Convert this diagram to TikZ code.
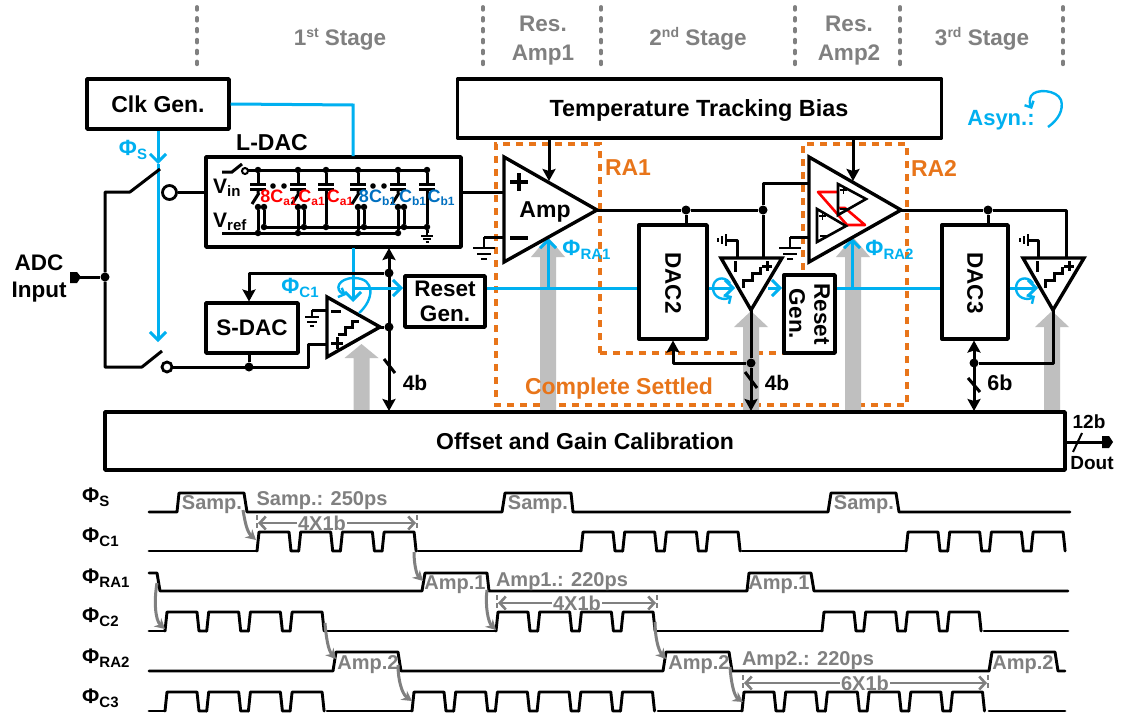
\documentclass[tikz,border=0pt]{standalone}
\usepackage{fontspec}
\setmainfont{Liberation Sans}
\usetikzlibrary{arrows.meta}
\definecolor{cblue}{HTML}{00B0F0}
\definecolor{dblue}{HTML}{0070C0}
\definecolor{corange}{HTML}{E8751A}
\definecolor{tgray}{HTML}{808080}
\definecolor{lgray}{HTML}{BFBFBF}
\newcommand{\fs}[1]{\fontsize{#1}{#1}\selectfont}
\newcommand{\sigl}[3][22]{\fs{#1}#2\raisebox{-4pt}{\fs{15}#3}}
\newcommand{\supl}[2]{#1\raisebox{8pt}{\fs{14}#2}}
\newcommand{\gnd}[2]{\draw[wire,line width=2.4pt] (#1,#2) -- +(0,11) (#1-11,#2+11) -- (#1+11,#2+11) (#1-7,#2+17) -- (#1+7,#2+17) (#1-3,#2+22) -- (#1+3,#2+22);}
\newcommand{\gndc}[2]{\draw[wire,line width=2.2pt] (#1,#2) -- +(0,7) (#1-7,#2+7) -- (#1+7,#2+7) (#1-5,#2+12) -- (#1+5,#2+12) (#1-2,#2+16) -- (#1+2,#2+16);}
\newcommand{\gndl}[2]{\draw[wire,line width=2.2pt] (#1,#2) -- (#1-1,#2) (#1-1,#2-6) -- (#1-1,#2+6) (#1-5,#2-4) -- (#1-5,#2+4) (#1-9,#2-2) -- (#1-9,#2+2);}
\newcommand{\gnds}[2]{\draw[wire,line width=2pt] (#1,#2) -- +(0,3) (#1-6,#2+3) -- (#1+6,#2+3) (#1-4,#2+6) -- (#1+4,#2+6) (#1-1.5,#2+9) -- (#1+1.5,#2+9);}
\newcommand{\pulses}[4]{\foreach \i [evaluate=\i as \xa using {#1+(\i-1)*41.7}, evaluate=\i as \xb using {#1+\i*41.7}] in {1,...,#2}{%
  \ifnum\i<#2\relax
  \draw[sigline] (\xa,#3) -- (\xa+2,#4) -- (\xa+32,#4) -- (\xa+34,#3) -- (\xb,#3);
  \else
  \draw[sigline] (\xa,#3) -- (\xa+2,#4) -- (\xa+32,#4) -- (\xa+34,#3);
  \fi}}
\newcommand{\cfn}[2]{\fs{18}#1C\raisebox{-3pt}{\fs{12}#2}}
\tikzset{
  x=1pt,y=-1pt,
  box/.style={draw=black,line width=3.4pt,fill=white,inner sep=0pt,font=\bfseries\fs{23},align=center,line join=round},
  wire/.style={draw=black,line width=3pt},
  tri/.style={draw=black,line width=3.4pt,line join=miter,fill=white},
  bwire/.style={draw=cblue,line width=3pt},
  barr/.style={bwire,-{Straight Barb[length=8pt,width=16pt,line width=3pt]}},
  barrs/.style={bwire,line width=2.4pt,-{Straight Barb[length=5pt,width=10pt,line width=2.4pt]}},
  arr/.style={wire,-{Stealth[length=12pt,width=13pt,inset=2pt]}},
  dbl/.style={wire,{Stealth[length=12pt,width=13pt,inset=2pt]}-{Stealth[length=12pt,width=13pt,inset=2pt]}},
  dot/.style={circle,fill=black,inner sep=0pt,minimum size=9pt},
  sdot/.style={circle,fill=black,inner sep=0pt,minimum size=6.5pt},
  port/.style={circle,draw=black,fill=white,line width=2.8pt,inner sep=0pt},
  lab/.style={inner sep=0pt,font=\bfseries\fs{23},align=center},
  slab/.style={inner sep=0pt,font=\bfseries\fs{22.5},align=center},
  stage/.style={inner sep=0pt,font=\bfseries\fs{22.5},text=tgray},
  glab/.style={inner sep=0pt,font=\bfseries\fs{20},text=tgray},
  clab/.style={inner sep=0pt,font=\bfseries\fs{22},text=cblue},
  olab/.style={inner sep=0pt,font=\bfseries\fs{23},text=corange},
  rcap/.style={inner sep=0pt,font=\bfseries,text=red},
  bcap/.style={inner sep=0pt,font=\bfseries,text=dblue},
  vdash/.style={draw=tgray,line width=3.8pt,line cap=round,dash pattern=on 2.8pt off 8.1pt},
  odash/.style={draw=corange,line width=3.4pt,dash pattern=on 7pt off 6pt},
  sigline/.style={draw=black,line width=2.9pt,line join=round,line cap=round},
  tick/.style={draw=tgray,line width=2.4pt,dash pattern=on 5pt off 3pt},
  dim/.style={draw=tgray,line width=2.8pt,{Straight Barb[length=6pt,width=13pt,line width=2.6pt]}-{Straight Barb[length=6pt,width=13pt,line width=2.6pt]}},
  garr/.style={draw=tgray,line width=3pt,-{Stealth[length=10pt,width=11pt]}},
  big/.style={fill=lgray,draw=none}
}
\begin{document}
\begin{tikzpicture}
\useasboundingbox (0,0) rectangle (1122,717);
\fill[white] (0,0) rectangle (1122,717);

% top stage headers
\foreach \xx/\nm in {197/a,483/b,601/c,795/d,900/e,1063/f}{
  \coordinate (dt\nm) at (\xx,7); \coordinate (db\nm) at (\xx,66);
  \draw[vdash] (dt\nm) -- (db\nm);}
\node[stage,anchor=base] (st1) at (340,46) {\supl{1}{st} Stage};
\node[stage,anchor=base] (ra1a) at (543,32) {Res.};
\node[stage,anchor=base] (ra1b) at (543,60) {Amp1};
\node[stage,anchor=base] (st2) at (698,46) {\supl{2}{nd} Stage};
\node[stage,anchor=base] (ra2a) at (849,32) {Res.};
\node[stage,anchor=base] (ra2b) at (849,60) {Amp2};
\node[stage,anchor=base] (st3) at (982,46) {\supl{3}{rd} Stage};

% orange regions
\coordinate (o1) at (496,144); \coordinate (o2) at (600,144); \coordinate (o3) at (600,353);
\coordinate (o4) at (784,353); \coordinate (o5) at (496,405); \coordinate (o6) at (907,405);
\coordinate (o7) at (907,144); \coordinate (o8) at (803,144); \coordinate (o9) at (803,276);
\draw[odash] (o3) -- (o2) -- (o1) -- (o5) -- (o6) -- (o7) -- (o8) -- (o9);
\draw[odash] (o3) -- (o4);

% gray arrows
\foreach \nm/\xx/\ya/\yb/\hw in {g1/361.5/344/358/17,g2/548/237/257/17,g3/751/311/327/17,g4/853/237/257/17,g5/1052/311/327/17}{
  \fill[big] (\xx,\ya) -- (\xx+\hw,\yb) -- (\xx+8,\yb) -- (\xx+8,412) -- (\xx-8,412) -- (\xx-8,\yb) -- (\xx-\hw,\yb) -- cycle;}

% boxes
\node[box,minimum width=142pt,minimum height=50pt] (clk) at (158,104) {Clk Gen.};
\node[box,minimum width=484pt,minimum height=59pt] (temp) at (699.5,108.5) {};
\node[inner sep=0pt,font=\bfseries\fs{23.4}] (tempt) at (699,111) {Temperature Tracking Bias};
\node[box,minimum width=255pt,minimum height=90pt] (ldac) at (333.5,202) {};
\node[box,minimum width=92pt,minimum height=50pt,font=\bfseries\fs{22.5}] (sdac) at (252,328) {S-DAC};
\node[box,minimum width=80pt,minimum height=51pt,font=\bfseries\fs{22.5}] (reset1) at (445,301.5) {Reset\\[2.5pt]Gen.};
\node[box,minimum width=68pt,minimum height=114pt] (dac2) at (673,282) {};
\node[box,minimum width=51pt,minimum height=78pt] (reset2) at (809.5,314) {};
\node[box,minimum width=66pt,minimum height=114pt] (dac3) at (975,282) {};
\node[box,minimum width=960pt,minimum height=58pt] (cal) at (585,441) {Offset and Gain Calibration};
\node[slab,rotate=-90] (dac2t) at (673,283) {DAC2};
\node[slab,rotate=-90] (dac3t) at (975,283) {DAC3};
\node[slab,rotate=-90] (reset2t) at (809.5,314) {Reset\\[2.5pt]Gen.};
\node[lab] (ldact) at (272,143) {L-DAC};

% named points
\coordinate (clkout) at (clk.east);
\coordinate (bv) at (353,105);
\coordinate (bvt) at (353,156);
\coordinate (bvb) at (353,248);
\coordinate (bvend) at (353,302);
\coordinate (bsend) at (158,342);
\coordinate (bsarr) at (158,164);

% blue clock wiring
\draw[bwire] (clkout) -- (bv) -- (bvt);
\draw[barr] (clk.south) -- (bsarr);
\draw[barr] (bsarr) -- (bsend);
\draw[barr] (bvb) -- (bvend);
\node[clab] (phis) at (133,150) {\sigl{Φ}{S}};
\node[clab] (phic1) at (300,288) {\sigl{Φ}{C1}};

% first-stage inputs
\node[dot] (jin) at (105,277) {};
\coordinate (adcp) at (80,277);
\fill (70,272) -- (77,272) -- (81,277) -- (77,283) -- (70,283) -- cycle;
\draw[wire] (adcp) -- (jin);
\node[lab,font=\bfseries\fs{22.5}] (adc) at (39,278) {ADC\\[4.5pt]Input};
\coordinate (sw1a) at (130,192); \coordinate (sw1b) at (160,169);
\coordinate (sw2a) at (142,367); \coordinate (sw2b) at (162,351);
\node[port,minimum size=14pt] (p1) at (169.5,192.5) {};
\node[port,minimum size=10pt] (p2) at (167,367) {};
\draw[wire,line join=round] (sw1b) -- (sw1a) -- (105,192) -- (jin) -- (105,367) -- (sw2a) -- (sw2b);
\draw[wire] (p1) -- (p1 -| ldac.west);
\node[dot] (jsd) at (249,367) {};
\draw[wire] (jsd) -- (jsd |- sdac.south);
\coordinate (cm1p) at (327,344);
\draw[wire,line join=round] (p2) -- (308,367) -- (308,344) -- (cm1p);

% comparator 1
\coordinate (c1a) at (327,297); \coordinate (c1b) at (327,357); \coordinate (c1o) at (380,327);
\coordinate (c1m) at (327,310);
\draw[wire] (c1m) -- (312,310);
\gndc{312}{310}
\draw[tri] (c1a) -- (c1o) -- (c1b) -- cycle;
\draw[wire] (331,311) -- (341,311) (331,343) -- (343,343) (337,337) -- (337,349);
\draw[wire] (338,334) -- (345,334) -- (345,327) -- (352,327) -- (352,321) -- (359,321);

% 4b bus of stage 1
\node[dot] (j41) at (389,273) {};
\node[dot] (j42) at (389,327) {};
\draw[dbl] (389,248) -- (389,411);
\draw[wire] (c1o) -- (j42);
\draw[arr,line join=round] (j41) -- (249,273) -- (249,301.5);
\draw[wire] (384,359) -- (395,373);
\node[slab,font=\bfseries\fs{21}] (b41) at (415,383) {4b};

% blue stage 1 to reset
\draw[barr] (353,288) -- (403,288);
\draw[barrs] (359,313) .. controls (374,300) and (376,278) .. (354,278) .. controls (338,278) and (334,290) .. (346,295);

% blue reset->DAC2
\draw[bwire] (reset1.east |- 0,288) -- (dac2.west |- 0,288);
\node[clab] (phira1) at (586.5,250) {\sigl{Φ}{RA1}};
\draw[barr] (548,288) -- (548,238);

% Amp1
\coordinate (a1a) at (504,157); \coordinate (a1b) at (504,262); \coordinate (a1o) at (597,210);
\draw[wire] (ldac.east |- 0,192) -- (a1a |- 0,192);
\draw[wire] (504,237) -- (484,237);
\gnd{484}{237}
\draw[tri,fill=none] (a1a) -- (a1o) -- (a1b) -- cycle;
\draw[wire,line width=3.2pt] (510,182) -- (528,182) (519,173) -- (519,191) (510,238) -- (528,238);
\node[lab] (amp) at (545,212) {Amp};
\draw[arr] (temp.south -| 549,0) -- (549,181);
\node[olab] (ra1l) at (628,168) {RA1};
\node[olab] (ra2l) at (934,168) {RA2};
\node[olab] (cs) at (619,389) {Complete Settled};

% Amp1 output
\node[dot] (j21) at (686,210) {};
\node[dot] (j22) at (763,210) {};
\draw[wire] (a1o) -- (j21) -- (j22);
\draw[wire] (j21) -- (j21 |- dac2.north);
\draw[wire,line join=round] (j22) -- (763,183) -- (809,183);
\draw[wire] (j22) -- (763,258);

% comparator 2
\coordinate (c2a) at (721,258); \coordinate (c2b) at (782,258); \coordinate (c2o) at (751,310);
\draw[wire,line join=round] (737,258) -- (737,240) -- (727,240);
\gndl{727}{240}
\draw[barr] (dac2.east |- 0,288) -- (735,288);
\draw[barr] (768,288) -- (782,288);
\draw[tri,fill=none] (c2a) -- (c2b) -- (c2o) -- cycle;
\draw[wire] (735,261) -- (735,272) (762,266) -- (772,266) (767,261) -- (767,271);
\draw[wire] (743,288) -- (743,280) -- (752,280) -- (752,273) -- (760,273) -- (760,267);
\draw[barrs] (730,283) .. controls (724,275) and (713,278) .. (713,288) .. controls (713,298) and (724,301) .. (732,296);
\node[dot] (j23) at (751,363) {};
\draw[wire] (c2o) -- (j23);
\draw[arr] (j23) -- (751,411);
\draw[arr,line join=round] (j23) -- (673,363) -- (673,340.5);
\draw[wire] (745,372) -- (757,388);
\node[slab,font=\bfseries\fs{21}] (b42) at (777,383) {4b};

% blue reset2->DAC3
\draw[bwire] (reset2.east |- 0,288) -- (dac3.west |- 0,288);
\draw[barr] (852,288) -- (852,238);
\node[clab] (phira2) at (889.5,250) {\sigl{Φ}{RA2}};

% Amp2
\coordinate (a2a) at (809,157); \coordinate (a2b) at (809,262); \coordinate (a2o) at (901,210);
\draw[wire] (809,237) -- (790,237);
\gnd{790}{237}
\draw[tri,fill=none] (a2a) -- (a2o) -- (a2b) -- cycle;
\draw[draw=red,line width=2.6pt,line join=round] (838,192) -- (818,192) -- (847,225) -- (865,225) -- (845,208) -- (838,208);
\draw[tri,line width=2.6pt,fill=none] (838,184) -- (866,199) -- (838,215) -- cycle;
\draw[tri,line width=2.6pt,fill=none] (817,209) -- (846,226) -- (817,242) -- cycle;
\draw[wire,line width=1.8pt] (819,216) -- (826,216) (822.5,212.5) -- (822.5,219.5) (820,236) -- (827,236) (840,190) -- (847,190) (843.5,186.5) -- (843.5,193.5) (840,209) -- (847,209);
\draw[arr] (temp.south -| 853,0) -- (853,181);

% Amp2 output
\node[dot] (j31) at (988,210) {};
\draw[wire,line join=round] (a2o) -- (j31) -- (1066,210) -- (1066,258);
\draw[wire] (j31) -- (j31 |- dac3.north);

% comparator 3
\coordinate (c3a) at (1023,258); \coordinate (c3b) at (1084,258); \coordinate (c3o) at (1053,310);
\draw[wire,line join=round] (1038,258) -- (1038,240) -- (1029,240);
\gndl{1029}{240}
\draw[barr] (dac3.east |- 0,288) -- (1038,288);
\draw[tri,fill=none] (c3a) -- (c3b) -- (c3o) -- cycle;
\draw[wire] (1037,261) -- (1037,272) (1064,266) -- (1074,266) (1069,261) -- (1069,271);
\draw[wire] (1045,288) -- (1045,280) -- (1054,280) -- (1054,273) -- (1062,273) -- (1062,267);
\draw[barrs] (1033,283) .. controls (1027,275) and (1016,278) .. (1016,288) .. controls (1016,298) and (1027,301) .. (1035,296);
\node[dot] (j32) at (974,363) {};
\draw[wire,line join=round] (c3o) -- (1053,363) -- (j32);
\draw[dbl] (974,340.5) -- (974,411);
\draw[wire] (968,378) -- (980,392);
\node[slab,font=\bfseries\fs{21.5}] (b6) at (1000,383) {6b};

% output
\coordinate (outp) at (1102,442);
\draw[wire] (1065,442) -- (outp);
\fill (1102,436) -- (1109,436) -- (1113,442) -- (1109,448) -- (1102,448) -- cycle;
\draw[wire,line width=2pt] (1073,452) -- (1082,433);
\node[inner sep=0pt,font=\bfseries\fs{19}] (b12) at (1089,422) {12b};
\node[inner sep=0pt,font=\bfseries\fs{19}] (dout) at (1092,463) {Dout};

% Asyn
\node[inner sep=0pt,font=\bfseries\fs{22},text=cblue] (asyn) at (1001,120) {Asyn.:};
\draw[barrs] (1048,127) .. controls (1058,120) and (1064,110) .. (1061,100) .. controls (1057,90) and (1036,88) .. (1031,96) .. controls (1029,100) and (1030,105) .. (1032,109);

% L-DAC interior
\node[port,draw=black,minimum size=6pt,fill=white,line width=2pt] (ls) at (245,171) {};
\draw[wire] (222,172) -- (232,172) -- (242,164);
\coordinate (tl) at (248,170); \coordinate (tr) at (427,170);
\draw[wire] (tl) -- (tr);
\draw[wire] (264,227) -- (427,227);
\draw[wire] (222,233) -- (400,233);
\foreach \xx/\nm/\isw in {258/1/1,298/2/1,326/3/0,358/4/1,398/5/1,427/6/0}{
  \node[sdot] (tp\nm) at (\xx,170) {};
  \draw[wire] (tp\nm) -- (\xx,184);
  \draw[wire,line width=2.6pt] (\xx-8,184.5) -- (\xx+8,184.5) (\xx-8,189.5) -- (\xx+8,189.5);
  \ifnum\isw=1
    \draw[wire] (\xx,190) -- (\xx,193) (\xx+1,193) -- (\xx-6,204);
    \node[sdot] (u\nm) at (\xx,207) {};
    \node[sdot] (v\nm) at (\xx+6,207) {};
    \node[sdot] (w\nm) at (\xx,233) {};
    \node[sdot] (z\nm) at (\xx+6,227) {};
    \draw[wire] (u\nm) -- (w\nm) (v\nm) -- (z\nm);
  \else
    \node[sdot] (z\nm) at (\xx,227) {};
    \draw[wire] (\xx,190) -- (z\nm);
  \fi}
\draw[wire] (z6) -- (427,233);
\gnds{427}{233}
\foreach \xx/\yy in {273/186,284/186,373/186,384/186}{\fill (\xx,\yy) circle (2.8pt);}
\node[inner sep=0pt,anchor=base west,font=\bfseries] (vin) at (213,193) {\fs{21}V\raisebox{-3pt}{\fs{15}in}};
\node[inner sep=0pt,anchor=base west,font=\bfseries] (vref) at (213,227) {\fs{21}V\raisebox{-3pt}{\fs{15}ref}};
\node[rcap] (ca1) at (278.5,198) {\cfn{8}{a1}};
\node[rcap] (ca2) at (311.5,198) {\cfn{}{a1}};
\node[rcap] (ca3) at (340,198) {\cfn{}{a1}};
\node[bcap] (cb1) at (377.5,198) {\cfn{8}{b1}};
\node[bcap] (cb2) at (412.5,198) {\cfn{}{b1}};
\node[bcap] (cb3) at (441,198) {\cfn{}{b1}};

% ---------- timing ----------
\foreach \yy/\sg/\ss in {497/S/phS,537/{C1}/phC1,578/{RA1}/phRA1,617/{C2}/phC2,658/{RA2}/phRA2,698/{C3}/phC3}{
  \node[inner sep=0pt,anchor=west,font=\bfseries] (\ss) at (82,\yy) {\sigl[21]{Φ}{\sg}};}
% S
\draw[sigline] (149,512) -- (177,512) -- (179,493) -- (244,493) -- (247,512) -- (502,512) -- (505,493) -- (571,493) -- (573,512) -- (828,512) -- (831,493) -- (896,493) -- (899,512) -- (1070,512);
% C1
\draw[sigline] (149,551) -- (257,551);
\pulses{257}{4}{551}{532}
\draw[sigline] (418,551) -- (581,551);
\pulses{581}{4}{551}{532}
\draw[sigline] (742,551) -- (906,551);
\pulses{906}{4}{551}{532}
% RA1
\draw[sigline] (149,573) -- (157,573) -- (160,591) -- (422,591) -- (425,573) -- (487,573) -- (489,591) -- (747,591) -- (749,573) -- (811,573) -- (814,591) -- (1068,591);
% C2
\draw[sigline] (149,631) -- (165,631);
\pulses{165}{4}{631}{612}
\draw[sigline] (327,631) -- (496,631);
\pulses{496}{4}{631}{612}
\draw[sigline] (657,631) -- (822,631);
\pulses{822}{4}{631}{612}
\draw[sigline] (984,631) -- (1068,631);
% RA2
\draw[sigline] (149,671) -- (333,671) -- (336,652) -- (398,652) -- (401,671) -- (663,671) -- (666,652) -- (729,652) -- (732,671) -- (989,671) -- (992,652) -- (1055,652) -- (1058,671) -- (1065,671);
% C3
\draw[sigline] (149,711) -- (165,711);
\pulses{165}{4}{711}{692}
\draw[sigline] (327,711) -- (412,711);
\pulses{412}{6}{711}{692}
\draw[sigline] (658,711) -- (742,711);
\pulses{742}{6}{711}{692}
\draw[sigline] (989,711) -- (1065,711);

% timing labels
\node[glab] (sa1) at (212,504.5) {Samp.};
\node[glab] (sa2) at (538,504.5) {Samp.};
\node[glab] (sa3) at (864,504.5) {Samp.};
\node[glab] (sp) at (322,501) {Samp.: 250ps};
\node[glab] (am11) at (455,585) {Amp.1};
\node[glab] (am12) at (779,585) {Amp.1};
\node[glab] (ap1) at (562,582) {Amp1.: 220ps};
\node[glab] (am21) at (368,665) {Amp.2};
\node[glab] (am22) at (699,665) {Amp.2};
\node[glab] (am23) at (1023,665) {Amp.2};
\node[glab] (ap2) at (808,661) {Amp2.: 220ps};
% dimension lines
\draw[tick] (257,515) -- (257,530);
\draw[tick] (417,515) -- (417,530);
\draw[tick] (497,595) -- (497,610);
\draw[tick] (657,595) -- (657,610);
\draw[tick] (743,675) -- (743,690);
\draw[tick] (988,675) -- (988,690);
\draw[dim] (258,523) -- (416,523);
\draw[dim] (498,603) -- (656,603);
\draw[dim] (744,683) -- (987,683);
\node[glab,fill=white,inner xsep=1pt] (d1) at (322,523) {4X1b};
\node[glab,fill=white,inner xsep=1pt] (d2) at (577,603) {4X1b};
\node[glab,fill=white,inner xsep=1pt] (d3) at (865,683) {6X1b};
% curved arrows
\draw[garr] (243,510) .. controls (245,522) and (247,532) .. (256,540);
\draw[garr] (414,552) .. controls (414,562) and (416,574) .. (423,581);
\draw[garr] (157,583) .. controls (154,600) and (155,620) .. (165,629);
\draw[garr] (487,590) .. controls (485,605) and (488,622) .. (496,630);
\draw[garr] (325,623) .. controls (326,636) and (328,650) .. (336,659);
\draw[garr] (398,665) .. controls (398,680) and (402,694) .. (412,701);
\draw[garr] (655,622) .. controls (655,636) and (658,650) .. (666,659);
\draw[garr] (730,667) .. controls (731,682) and (734,696) .. (743,702);
\end{tikzpicture}
\end{document}
